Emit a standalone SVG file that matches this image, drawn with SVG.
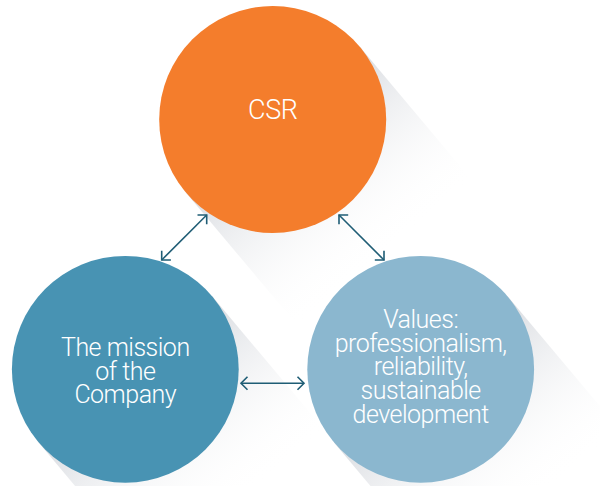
<svg xmlns="http://www.w3.org/2000/svg" width="600" height="486" viewBox="0 0 600 486">
<style>
.lbl{font-family:Roboto,"Liberation Sans",sans-serif;font-weight:300;fill:#ffffff;text-anchor:middle;letter-spacing:-0.5px}
.conn{stroke:#1f5d75;stroke-width:1.6;fill:none}
</style>
<defs>
<linearGradient id="shO" gradientUnits="userSpaceOnUse" x1="272.7" y1="119.5" x2="385.2" y2="253.6">
<stop offset="0" stop-color="#d6d9de" stop-opacity="1"/>
<stop offset="1" stop-color="#ffffff" stop-opacity="0"/>
</linearGradient>
<linearGradient id="shL" gradientUnits="userSpaceOnUse" x1="125.3" y1="369.3" x2="237.8" y2="503.4">
<stop offset="0" stop-color="#d6d9de" stop-opacity="1"/>
<stop offset="1" stop-color="#ffffff" stop-opacity="0"/>
</linearGradient>
<linearGradient id="shR" gradientUnits="userSpaceOnUse" x1="420.7" y1="369.3" x2="533.2" y2="503.4">
<stop offset="0" stop-color="#d6d9de" stop-opacity="1"/>
<stop offset="1" stop-color="#ffffff" stop-opacity="0"/>
</linearGradient>
<marker id="chev" markerUnits="userSpaceOnUse" markerWidth="20" markerHeight="20" refX="0" refY="0" viewBox="-10 -10 20 20" orient="auto-start-reverse" overflow="visible">
<path d="M-6.5,-6.5 L0,0 L-6.5,6.5" fill="none" stroke="#1f5d75" stroke-width="1.6"/>
</marker>
</defs>
<rect width="600" height="486" fill="#ffffff"/>
<g id="shadows">
<polygon points="359.6,46.5 501.1,215 327.3,361 185.8,192.5" fill="url(#shO)"/>
<polygon points="212.2,296.3 353.7,464.8 179.9,610.8 38.4,442.3" fill="url(#shL)"/>
<polygon points="507.6,296.3 649.1,464.8 475.3,610.8 333.8,442.3" fill="url(#shR)"/>
</g>
<g id="node-csr">
<circle cx="272.7" cy="119.5" r="113.5" fill="#f47d2c"/>
<text class="lbl" x="272.7" y="119" font-size="27">CSR</text>
</g>
<g id="node-mission">
<circle cx="125.3" cy="369.3" r="113.4" fill="#4893b3"/>
<text class="lbl" font-size="25"><tspan x="125.3" y="356">The mission</tspan><tspan x="125.3" y="379.5">of the</tspan><tspan x="125.3" y="403.3">Company</tspan></text>
</g>
<g id="node-values">
<circle cx="420.7" cy="369.3" r="113.4" fill="#8bb7cf"/>
<text class="lbl" font-size="25"><tspan x="420.7" y="328.3">Values:</tspan><tspan x="420.7" y="351.8">professionalism,</tspan><tspan x="420.7" y="375.3">reliability,</tspan><tspan x="420.7" y="399.3">sustainable</tspan><tspan x="420.7" y="423.3">development</tspan></text>
</g>
<g id="connectors">
<line class="conn" x1="206.7" y1="215" x2="161.7" y2="260" marker-start="url(#chev)" marker-end="url(#chev)"/>
<line class="conn" x1="339" y1="215" x2="384" y2="260" marker-start="url(#chev)" marker-end="url(#chev)"/>
<line class="conn" x1="241" y1="383.3" x2="304" y2="383.3" marker-start="url(#chev)" marker-end="url(#chev)"/>
</g>
</svg>
